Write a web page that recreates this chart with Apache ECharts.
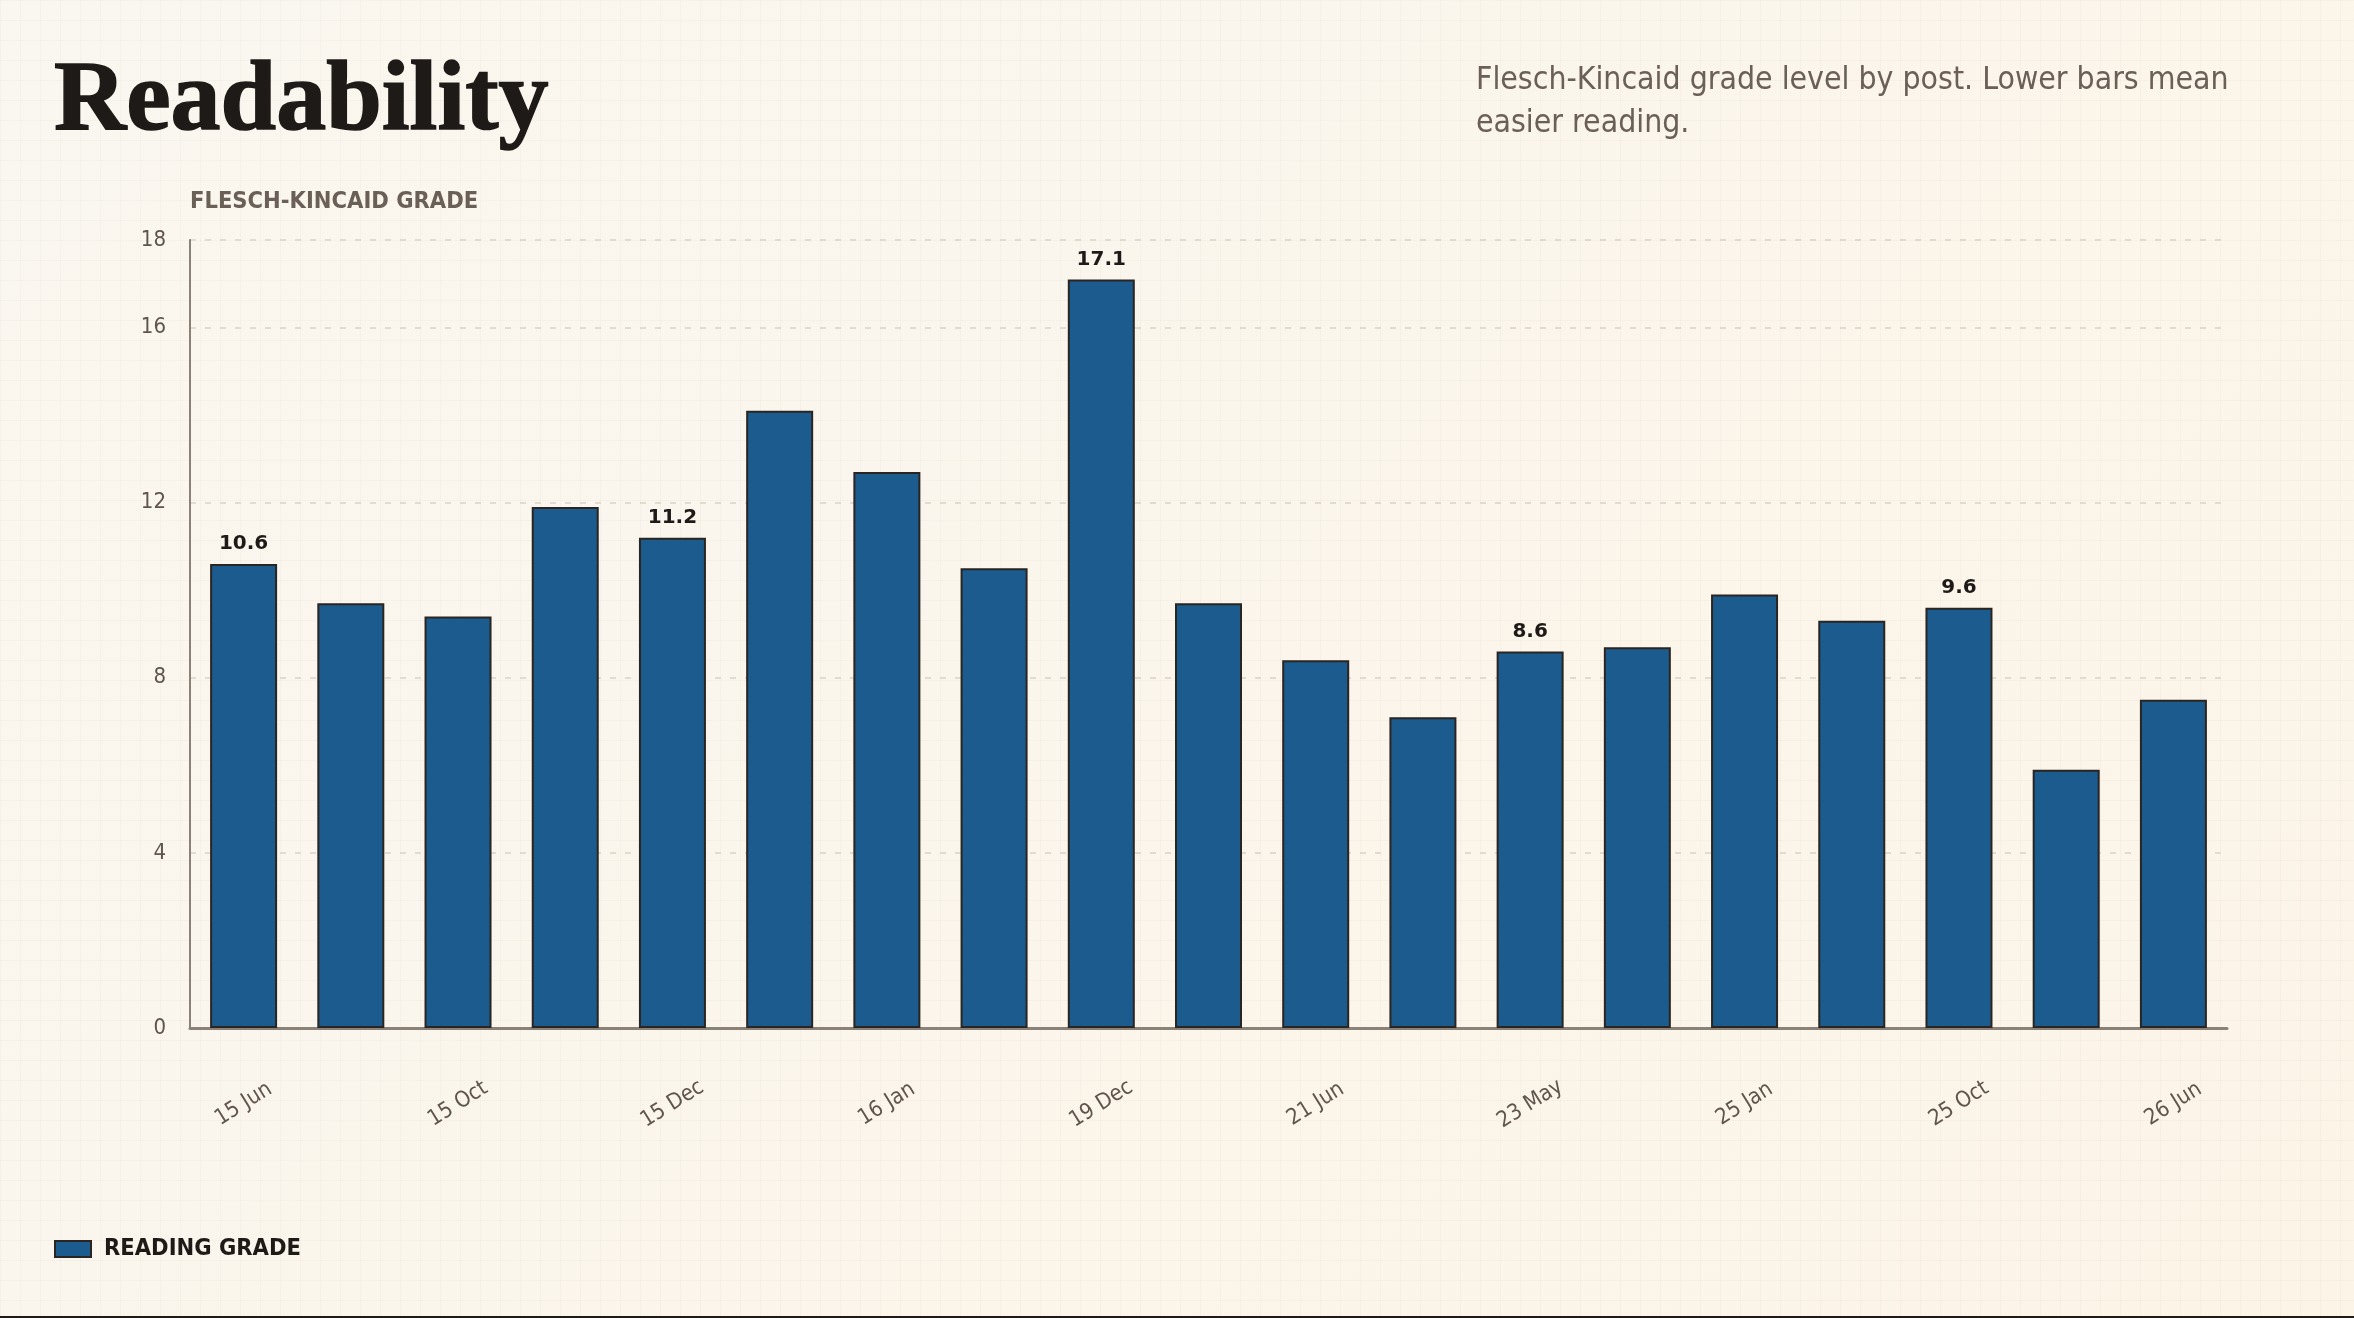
<!DOCTYPE html>
<html>
<head>
<meta charset="utf-8">
<title>Readability</title>
<script src="https://cdn.jsdelivr.net/npm/echarts@6/dist/echarts.min.js"></script>
<style>
    html, body { margin: 0; padding: 0; }
    body {
        width: 2354px; height: 1318px; overflow: hidden;
        background-color: #fbf6ec;
        background-image:
            linear-gradient(rgba(120,100,70,0.035) 1px, transparent 1px),
            linear-gradient(90deg, rgba(120,100,70,0.035) 1px, transparent 1px),
            linear-gradient(135deg, #faf7f0 0%, #fcf4e7 100%);
        background-size: 20px 20px, 20px 20px, 100% 100%;
    }
    #main { width: 2354px; height: 1316px; border-bottom: 2px solid #1e1a17; }
</style>
</head>
<body>
<div id="main"></div>
<script>
// categories (only every other one is shown on the axis)
var categories = ['15 Jun', '15 Aug', '15 Oct', '15 Nov', '15 Dec', '15 Dec', '16 Jan', '17 Mar', '19 Dec', '20 May',
                  '21 Jun', '22 Feb', '23 May', '24 Jun', '25 Jan', '25 Jun', '25 Oct', '26 Feb', '26 Jun'];
// Flesch-Kincaid grade per post
var grades = [10.6, 9.7, 9.4, 11.9, 11.2, 14.1, 12.7, 10.5, 17.1, 9.7,
              8.4, 7.1, 8.6, 8.7, 9.9, 9.3, 9.6, 5.9, 7.5];
// bars that carry a value label
var labelled = [0, 4, 8, 12, 16];

var sans = '"DejaVu Sans Condensed", "DejaVu Sans", sans-serif';

var myChart = echarts.init(document.getElementById('main'));

var barData = grades.map(function (v, i) {
    return {
        value: v,
        label: { show: labelled.indexOf(i) >= 0 }
    };
});

var option = {
    backgroundColor: 'transparent',
    title: [{
        text: 'Readability',
        left: 49,
        top: 48,
        textStyle: {
            fontFamily: '"Liberation Serif", "DejaVu Serif", serif',
            fontWeight: 'bold',
            fontSize: 100,
            color: '#1e1a17',
            textBorderColor: '#1e1a17',
            textBorderWidth: 1.5
        }
    }, {
        text: 'Flesch-Kincaid grade level by post. Lower bars mean\neasier reading.',
        left: 1471,
        top: 54,
        textStyle: {
            fontFamily: sans,
            fontWeight: 'normal',
            fontSize: 31.7,
            lineHeight: 43,
            color: '#6b6058'
        }
    }],
    legend: {
        left: 49,
        top: 1232,
        itemWidth: 36,
        itemHeight: 16,
        icon: 'rect',
        data: ['READING GRADE'],
        textStyle: {
            fontFamily: sans,
            fontWeight: 'bold',
            fontSize: 23.5,
            color: '#1e1a17',
            padding: [0, 0, 0, 8]
        }
    },
    grid: {
        left: 190,
        right: 127,
        top: 240,
        bottom: 288
    },
    xAxis: {
        type: 'category',
        data: categories,
        axisTick: { show: false },
        axisLine: { lineStyle: { color: '#8a8179', width: 3 } },
        axisLabel: {
            interval: 1,
            rotate: 32,
            align: 'center',
            verticalAlign: 'middle',
            margin: 76,
            fontFamily: sans,
            fontSize: 22,
            color: '#5f554d'
        }
    },
    yAxis: {
        type: 'value',
        min: 0,
        max: 18,
        interval: 4,
        name: 'FLESCH-KINCAID GRADE',
        nameLocation: 'end',
        nameGap: 26,
        nameTextStyle: {
            align: 'left',
            fontFamily: sans,
            fontWeight: 'bold',
            fontSize: 23.5,
            color: '#6b6058'
        },
        axisLine: { show: true, lineStyle: { color: '#8a8179', width: 2 } },
        axisTick: { show: false },
        axisLabel: {
            margin: 24,
            fontFamily: sans,
            fontSize: 22,
            color: '#5f554d'
        },
        splitLine: {
            lineStyle: { color: '#d9d2c6', type: [6, 9], width: 1.5 }
        }
    },
    series: [{
        name: 'READING GRADE',
        type: 'bar',
        data: barData,
        barWidth: 67,
        itemStyle: {
            color: '#1b5b8e',
            borderColor: '#2a2521',
            borderWidth: 2
        },
        label: {
            position: 'top',
            distance: 10,
            fontFamily: '"DejaVu Sans", sans-serif',
            fontWeight: 'bold',
            fontSize: 20,
            color: '#1e1a17'
        }
    }]
};

myChart.setOption(option);
</script>
</body>
</html>
